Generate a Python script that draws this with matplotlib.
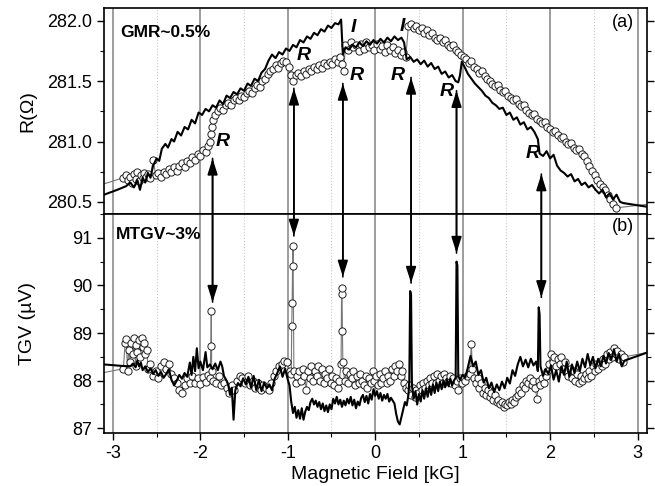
import matplotlib
matplotlib.use("Agg")
import matplotlib.pyplot as plt
from matplotlib.patches import ConnectionPatch
from matplotlib.ticker import MultipleLocator
import numpy as np

plt.rcParams['font.family'] = ['Liberation Sans', 'DejaVu Sans']
plt.rcParams['axes.unicode_minus'] = False

# ---- (a) resistance, solid line sweep ----
r_line = [
    (-3.10, 280.56), (-2.95, 280.60), (-2.85, 280.63), (-2.80, 280.66), (-2.76, 280.62),
    (-2.72, 280.68), (-2.69, 280.60), (-2.66, 280.70), (-2.63, 280.66), (-2.60, 280.74),
    (-2.57, 280.70), (-2.54, 280.80), (-2.50, 280.86), (-2.47, 280.84), (-2.44, 280.94),
    (-2.40, 280.98), (-2.37, 280.95), (-2.33, 281.02), (-2.30, 281.00), (-2.26, 281.08),
    (-2.22, 281.05), (-2.18, 281.12), (-2.14, 281.10), (-2.10, 281.18), (-2.06, 281.15),
    (-2.02, 281.24), (-1.98, 281.22), (-1.94, 281.27), (-1.90, 281.25), (-1.86, 281.30),
    (-1.82, 281.28), (-1.78, 281.34), (-1.74, 281.31), (-1.70, 281.38), (-1.66, 281.36),
    (-1.62, 281.41), (-1.58, 281.39), (-1.54, 281.44), (-1.50, 281.42), (-1.46, 281.48),
    (-1.42, 281.46), (-1.38, 281.52), (-1.34, 281.50), (-1.30, 281.57), (-1.26, 281.60),
    (-1.22, 281.67), (-1.18, 281.72), (-1.14, 281.69), (-1.10, 281.74), (-1.06, 281.72),
    (-1.02, 281.77), (-0.98, 281.75), (-0.94, 281.80), (-0.90, 281.78), (-0.86, 281.84),
    (-0.82, 281.82), (-0.78, 281.87), (-0.74, 281.85), (-0.70, 281.90), (-0.66, 281.88),
    (-0.62, 281.93), (-0.58, 281.91), (-0.54, 281.96), (-0.50, 281.94), (-0.46, 281.98),
    (-0.42, 281.97), (-0.39, 282.01), (-0.37, 281.72), (-0.34, 281.78), (-0.30, 281.76),
    (-0.26, 281.80), (-0.22, 281.78), (-0.18, 281.82), (-0.14, 281.79), (-0.10, 281.83),
    (-0.06, 281.80), (-0.02, 281.84), (0.02, 281.81), (0.06, 281.85), (0.10, 281.82),
    (0.14, 281.86), (0.18, 281.83), (0.22, 281.87), (0.26, 281.84), (0.30, 281.86),
    (0.33, 281.82), (0.36, 281.68), (0.40, 281.70), (0.44, 281.66), (0.48, 281.68),
    (0.52, 281.64), (0.56, 281.67), (0.60, 281.62), (0.64, 281.65), (0.68, 281.60),
    (0.72, 281.62), (0.76, 281.56), (0.80, 281.58), (0.84, 281.53), (0.88, 281.55),
    (0.92, 281.50), (0.95, 281.49), (0.97, 281.55), (0.99, 281.66), (1.02, 281.62),
    (1.06, 281.56), (1.10, 281.52), (1.14, 281.48), (1.18, 281.45), (1.22, 281.42),
    (1.26, 281.38), (1.30, 281.36), (1.34, 281.32), (1.38, 281.30), (1.42, 281.27),
    (1.46, 281.28), (1.50, 281.22), (1.54, 281.24), (1.58, 281.18), (1.62, 281.20),
    (1.66, 281.14), (1.70, 281.16), (1.74, 281.10), (1.78, 281.12), (1.82, 281.08),
    (1.86, 281.02), (1.88, 280.90), (1.92, 280.88), (1.96, 280.92), (2.00, 280.86),
    (2.04, 280.89), (2.08, 280.80), (2.12, 280.76), (2.16, 280.74), (2.20, 280.71),
    (2.24, 280.73), (2.28, 280.67), (2.32, 280.69), (2.36, 280.64), (2.40, 280.66),
    (2.44, 280.62), (2.48, 280.64), (2.52, 280.60), (2.56, 280.57), (2.60, 280.60),
    (2.64, 280.54), (2.68, 280.57), (2.72, 280.52), (2.76, 280.56), (2.80, 280.50),
    (2.84, 280.49), (3.11, 280.46),
]

# ---- (a) resistance, open circles sweep ----
r_circ = [
    (-2.88, 280.70), (-2.85, 280.72), (-2.83, 280.68), (-2.80, 280.71), (-2.78, 280.66),
    (-2.76, 280.73), (-2.74, 280.69), (-2.72, 280.75), (-2.70, 280.67), (-2.68, 280.72),
    (-2.66, 280.70), (-2.64, 280.74), (-2.62, 280.71), (-2.60, 280.73), (-2.57, 280.70),
    (-2.54, 280.85), (-2.51, 280.72), (-2.48, 280.74), (-2.45, 280.71), (-2.42, 280.75),
    (-2.39, 280.73), (-2.36, 280.77), (-2.33, 280.75), (-2.30, 280.79), (-2.27, 280.76),
    (-2.24, 280.80), (-2.21, 280.82), (-2.18, 280.79), (-2.15, 280.84), (-2.12, 280.82),
    (-2.09, 280.87), (-2.06, 280.85), (-2.03, 280.90), (-2.00, 280.88), (-1.97, 280.93),
    (-1.94, 280.91), (-1.91, 280.96), (-1.89, 281.00), (-1.88, 281.06), (-1.87, 281.12),
    (-1.85, 281.18), (-1.83, 281.22), (-1.80, 281.25), (-1.77, 281.28), (-1.74, 281.26),
    (-1.71, 281.30), (-1.68, 281.32), (-1.65, 281.30), (-1.62, 281.34), (-1.59, 281.36),
    (-1.56, 281.34), (-1.53, 281.38), (-1.50, 281.37), (-1.47, 281.40), (-1.44, 281.42),
    (-1.41, 281.40), (-1.38, 281.44), (-1.35, 281.47), (-1.32, 281.45), (-1.29, 281.50),
    (-1.26, 281.52), (-1.23, 281.56), (-1.20, 281.58), (-1.17, 281.60), (-1.14, 281.63),
    (-1.11, 281.61), (-1.08, 281.65), (-1.05, 281.67), (-1.02, 281.66), (-0.99, 281.62),
    (-0.96, 281.55), (-0.94, 281.50), (-0.91, 281.55), (-0.88, 281.57), (-0.85, 281.54),
    (-0.82, 281.58), (-0.79, 281.56), (-0.76, 281.60), (-0.73, 281.58), (-0.70, 281.62),
    (-0.67, 281.60), (-0.64, 281.63), (-0.61, 281.61), (-0.58, 281.65), (-0.55, 281.63),
    (-0.52, 281.66), (-0.49, 281.64), (-0.46, 281.68), (-0.43, 281.66), (-0.40, 281.70),
    (-0.38, 281.64), (-0.36, 281.58), (-0.34, 281.80), (-0.31, 281.76), (-0.28, 281.82),
    (-0.25, 281.78), (-0.22, 281.80), (-0.19, 281.75), (-0.16, 281.81), (-0.13, 281.77),
    (-0.10, 281.82), (-0.07, 281.78), (-0.04, 281.80), (-0.01, 281.76), (0.02, 281.81),
    (0.05, 281.77), (0.08, 281.79), (0.11, 281.74), (0.14, 281.80), (0.17, 281.76),
    (0.20, 281.78), (0.23, 281.73), (0.26, 281.76), (0.29, 281.72), (0.32, 281.74),
    (0.35, 281.70), (0.38, 281.96), (0.41, 281.97), (0.44, 281.94), (0.47, 281.96),
    (0.50, 281.92), (0.53, 281.94), (0.56, 281.90), (0.59, 281.92), (0.62, 281.88),
    (0.65, 281.90), (0.68, 281.86), (0.71, 281.84), (0.74, 281.86), (0.77, 281.82),
    (0.80, 281.84), (0.83, 281.80), (0.86, 281.78), (0.89, 281.80), (0.92, 281.76),
    (0.95, 281.74), (0.98, 281.72), (1.01, 281.70), (1.04, 281.68), (1.07, 281.65),
    (1.10, 281.67), (1.13, 281.62), (1.16, 281.60), (1.19, 281.57), (1.22, 281.58),
    (1.25, 281.54), (1.28, 281.52), (1.31, 281.50), (1.34, 281.48), (1.37, 281.46),
    (1.40, 281.47), (1.43, 281.43), (1.46, 281.41), (1.49, 281.42), (1.52, 281.38),
    (1.55, 281.36), (1.58, 281.34), (1.61, 281.35), (1.64, 281.31), (1.67, 281.29),
    (1.70, 281.30), (1.73, 281.26), (1.76, 281.24), (1.79, 281.22), (1.82, 281.23),
    (1.85, 281.19), (1.88, 281.17), (1.91, 281.15), (1.94, 281.16), (1.97, 281.12),
    (2.00, 281.10), (2.03, 281.08), (2.06, 281.09), (2.09, 281.05), (2.12, 281.03),
    (2.15, 281.04), (2.18, 281.00), (2.21, 280.98), (2.24, 280.99), (2.27, 280.95),
    (2.30, 280.93), (2.33, 280.94), (2.36, 280.90), (2.39, 280.88), (2.42, 280.84),
    (2.45, 280.80), (2.48, 280.76), (2.51, 280.72), (2.54, 280.68), (2.57, 280.65),
    (2.60, 280.62), (2.63, 280.60), (2.66, 280.56), (2.69, 280.52), (2.72, 280.48),
    (2.75, 280.45),
]
r_circ_ends = [(-3.10, 280.65), (3.11, 280.48)]

# ---- (b) thermal gradient voltage, solid line sweep ----
v_line = [
    (-3.10, 88.34), (-2.90, 88.31), (-2.80, 88.30), (-2.77, 88.36), (-2.74, 88.28),
    (-2.72, 88.42), (-2.70, 88.30), (-2.68, 88.38), (-2.66, 88.22), (-2.63, 88.30),
    (-2.60, 88.18), (-2.57, 88.26), (-2.54, 88.14), (-2.51, 88.22), (-2.48, 88.10),
    (-2.45, 88.18), (-2.42, 88.06), (-2.39, 88.14), (-2.36, 88.24), (-2.33, 88.02),
    (-2.30, 87.90), (-2.27, 88.00), (-2.24, 88.12), (-2.21, 88.04), (-2.18, 88.16),
    (-2.15, 88.08), (-2.12, 88.38), (-2.10, 88.12), (-2.08, 88.50), (-2.06, 88.20),
    (-2.04, 88.68), (-2.02, 88.26), (-2.00, 88.40), (-1.97, 88.22), (-1.94, 88.60),
    (-1.92, 88.28), (-1.89, 88.34), (-1.86, 88.24), (-1.83, 88.36), (-1.80, 88.22),
    (-1.77, 88.40), (-1.75, 88.30), (-1.73, 88.10), (-1.70, 88.00), (-1.68, 87.90),
    (-1.66, 87.70), (-1.64, 87.85), (-1.62, 87.18), (-1.60, 87.80), (-1.57, 87.95),
    (-1.54, 87.88), (-1.51, 88.05), (-1.48, 87.92), (-1.45, 88.08), (-1.42, 87.85),
    (-1.39, 88.10), (-1.36, 87.80), (-1.33, 88.02), (-1.30, 87.78), (-1.27, 87.96),
    (-1.24, 87.84), (-1.21, 87.92), (-1.18, 87.80), (-1.15, 88.04), (-1.12, 88.16),
    (-1.09, 88.30), (-1.06, 88.08), (-1.03, 88.25), (-1.00, 88.02), (-0.98, 87.90),
    (-0.96, 87.55), (-0.94, 87.32), (-0.92, 87.45), (-0.90, 87.22), (-0.88, 87.38),
    (-0.86, 87.20), (-0.84, 87.42), (-0.82, 87.18), (-0.80, 87.35), (-0.78, 87.45),
    (-0.76, 87.38), (-0.74, 87.55), (-0.72, 87.62), (-0.70, 87.50), (-0.68, 87.58),
    (-0.66, 87.45), (-0.64, 87.55), (-0.62, 87.40), (-0.60, 87.52), (-0.58, 87.36),
    (-0.56, 87.48), (-0.54, 87.34), (-0.52, 87.50), (-0.50, 87.40), (-0.48, 87.62),
    (-0.46, 87.52), (-0.44, 87.66), (-0.42, 87.50), (-0.40, 87.60), (-0.38, 87.45),
    (-0.36, 87.58), (-0.34, 87.48), (-0.32, 87.62), (-0.30, 87.52), (-0.28, 87.66),
    (-0.26, 87.48), (-0.24, 87.60), (-0.22, 87.42), (-0.20, 87.56), (-0.18, 87.48),
    (-0.16, 87.64), (-0.14, 87.70), (-0.12, 87.55), (-0.10, 87.68), (-0.08, 87.52),
    (-0.06, 87.72), (-0.04, 87.60), (-0.02, 87.82), (0.00, 87.68), (0.02, 87.78),
    (0.04, 87.62), (0.06, 87.74), (0.08, 87.58), (0.10, 87.70), (0.12, 87.62),
    (0.14, 87.72), (0.16, 87.56), (0.18, 87.64), (0.20, 87.58), (0.22, 87.52),
    (0.24, 87.30), (0.26, 87.14), (0.28, 87.08), (0.30, 87.24), (0.32, 87.40),
    (0.34, 87.55), (0.36, 87.48), (0.38, 87.70), (0.39, 88.00), (0.40, 89.88),
    (0.41, 89.80), (0.42, 87.90), (0.44, 87.62), (0.46, 87.78), (0.48, 87.50),
    (0.50, 87.72), (0.52, 87.56), (0.54, 87.80), (0.56, 87.62), (0.58, 87.84),
    (0.60, 87.66), (0.62, 87.88), (0.64, 87.70), (0.66, 87.92), (0.68, 87.74),
    (0.70, 87.96), (0.72, 87.78), (0.74, 87.98), (0.76, 87.82), (0.78, 88.00),
    (0.80, 87.86), (0.82, 88.02), (0.84, 87.88), (0.86, 88.04), (0.88, 87.90),
    (0.90, 88.00), (0.92, 88.06), (0.93, 90.50), (0.94, 90.42), (0.95, 88.10),
    (0.97, 88.02), (1.00, 88.12), (1.03, 88.06), (1.06, 88.28), (1.09, 88.52),
    (1.12, 88.30), (1.15, 88.40), (1.18, 88.12), (1.21, 88.22), (1.24, 87.96),
    (1.27, 88.06), (1.30, 87.84), (1.33, 87.96), (1.36, 87.76), (1.39, 87.92),
    (1.42, 87.80), (1.45, 87.98), (1.48, 87.84), (1.51, 88.06), (1.54, 87.94),
    (1.57, 88.22), (1.60, 88.10), (1.63, 88.34), (1.66, 88.50), (1.69, 88.30),
    (1.72, 88.44), (1.75, 88.28), (1.78, 88.46), (1.81, 88.32), (1.84, 88.40),
    (1.86, 88.20), (1.87, 89.54), (1.88, 89.40), (1.89, 88.30), (1.92, 88.10),
    (1.95, 88.24), (1.98, 88.14), (2.01, 88.32), (2.04, 88.02), (2.07, 88.22),
    (2.10, 87.98), (2.13, 88.30), (2.16, 88.12), (2.19, 88.40), (2.22, 88.08),
    (2.25, 88.34), (2.28, 88.16), (2.31, 88.40), (2.34, 88.20), (2.37, 88.46),
    (2.40, 88.28), (2.43, 88.56), (2.46, 88.32), (2.49, 88.50), (2.52, 88.26),
    (2.55, 88.46), (2.58, 88.30), (2.61, 88.52), (2.64, 88.36), (2.67, 88.58),
    (2.70, 88.44), (2.73, 88.66), (2.76, 88.40), (2.79, 88.56), (2.82, 88.30),
    (2.85, 88.42), (3.11, 88.59),
]

# ---- (b) thermal gradient voltage, open circles sweep ----
v_circ = [
    (-2.88, 88.25), (-2.86, 88.80), (-2.85, 88.88), (-2.83, 88.20), (-2.82, 88.65),
    (-2.80, 88.40), (-2.79, 88.80), (-2.77, 88.55), (-2.76, 88.90), (-2.74, 88.30),
    (-2.73, 88.75), (-2.72, 88.60), (-2.70, 88.85), (-2.69, 88.50), (-2.67, 88.90),
    (-2.66, 88.70), (-2.64, 88.80), (-2.63, 88.55), (-2.61, 88.65), (-2.60, 88.25),
    (-2.57, 88.35), (-2.54, 88.10), (-2.51, 88.20), (-2.48, 88.05), (-2.45, 88.30),
    (-2.42, 88.40), (-2.39, 88.25), (-2.36, 88.35), (-2.33, 88.15), (-2.30, 88.05),
    (-2.27, 87.95), (-2.24, 87.80), (-2.21, 87.75), (-2.18, 87.90), (-2.15, 88.05),
    (-2.12, 87.95), (-2.09, 88.10), (-2.06, 87.95), (-2.03, 88.05), (-2.00, 87.92),
    (-1.97, 88.08), (-1.94, 87.98), (-1.91, 88.12), (-1.89, 88.05), (-1.88, 88.72),
    (-1.875, 89.46), (-1.87, 88.20), (-1.85, 88.00), (-1.82, 87.95), (-1.79, 88.10),
    (-1.76, 87.90), (-1.73, 87.95), (-1.70, 87.85), (-1.67, 87.75), (-1.64, 87.90),
    (-1.61, 87.80), (-1.58, 88.00), (-1.55, 88.10), (-1.52, 88.05), (-1.49, 87.95),
    (-1.46, 88.10), (-1.43, 87.90), (-1.40, 88.00), (-1.37, 87.85), (-1.34, 87.95),
    (-1.31, 87.80), (-1.28, 87.90), (-1.25, 87.85), (-1.22, 87.80), (-1.19, 87.95),
    (-1.16, 88.10), (-1.13, 88.20), (-1.10, 88.30), (-1.07, 88.35), (-1.04, 88.42),
    (-1.01, 88.40), (-0.98, 88.20), (-0.96, 88.15), (-0.955, 89.14), (-0.95, 89.63),
    (-0.945, 90.41), (-0.94, 90.83), (-0.93, 88.20), (-0.91, 87.95), (-0.89, 88.10),
    (-0.87, 88.20), (-0.85, 88.00), (-0.83, 88.25), (-0.81, 88.10), (-0.79, 87.80),
    (-0.77, 88.20), (-0.75, 88.05), (-0.73, 88.30), (-0.71, 88.00), (-0.69, 88.20),
    (-0.67, 88.10), (-0.65, 88.30), (-0.63, 88.00), (-0.61, 88.25), (-0.59, 87.95),
    (-0.57, 88.15), (-0.55, 88.05), (-0.53, 88.25), (-0.51, 87.95), (-0.49, 88.10),
    (-0.47, 87.90), (-0.45, 88.05), (-0.43, 87.85), (-0.41, 88.00), (-0.39, 88.36),
    (-0.385, 89.83), (-0.38, 89.94), (-0.375, 89.05), (-0.37, 88.40), (-0.35, 88.00),
    (-0.33, 88.20), (-0.31, 87.95), (-0.29, 88.15), (-0.27, 88.05), (-0.25, 88.20),
    (-0.23, 87.90), (-0.21, 88.10), (-0.19, 87.95), (-0.17, 88.15), (-0.15, 88.00),
    (-0.13, 87.90), (-0.11, 88.10), (-0.09, 87.85), (-0.07, 88.05), (-0.05, 87.95),
    (-0.03, 88.20), (-0.01, 88.00), (0.01, 88.10), (0.03, 87.90), (0.05, 88.15),
    (0.07, 87.95), (0.09, 88.05), (0.11, 88.20), (0.13, 87.95), (0.15, 88.10),
    (0.17, 88.00), (0.19, 88.25), (0.21, 88.10), (0.23, 88.30), (0.25, 88.20),
    (0.27, 88.35), (0.29, 88.10), (0.31, 88.20), (0.33, 87.95), (0.35, 87.85),
    (0.37, 87.80), (0.39, 87.90), (0.41, 87.70), (0.43, 87.85), (0.45, 87.65),
    (0.47, 87.80), (0.49, 87.75), (0.51, 87.90), (0.53, 87.80), (0.55, 87.95),
    (0.57, 87.85), (0.59, 88.00), (0.61, 87.90), (0.63, 88.05), (0.65, 87.95),
    (0.67, 88.10), (0.69, 87.95), (0.71, 88.15), (0.73, 88.00), (0.75, 88.10),
    (0.77, 87.95), (0.79, 88.15), (0.81, 88.05), (0.83, 88.00), (0.85, 88.10),
    (0.87, 87.95), (0.89, 88.05), (0.91, 87.90), (0.93, 88.00), (0.95, 87.80),
    (0.97, 88.05), (0.99, 87.95), (1.01, 88.05), (1.03, 88.00), (1.05, 88.10),
    (1.08, 88.15), (1.10, 88.78), (1.11, 88.25), (1.13, 88.05), (1.15, 87.95),
    (1.17, 88.05), (1.19, 87.85), (1.21, 87.95), (1.23, 87.75), (1.25, 87.85),
    (1.27, 87.70), (1.29, 87.80), (1.31, 87.65), (1.33, 87.75), (1.35, 87.60),
    (1.37, 87.70), (1.39, 87.55), (1.41, 87.60), (1.43, 87.50), (1.45, 87.55),
    (1.47, 87.45), (1.49, 87.52), (1.51, 87.48), (1.53, 87.55), (1.55, 87.50),
    (1.57, 87.60), (1.59, 87.55), (1.61, 87.65), (1.63, 87.70), (1.65, 87.80),
    (1.67, 87.75), (1.69, 87.90), (1.71, 87.85), (1.73, 88.00), (1.75, 87.95),
    (1.77, 88.05), (1.79, 87.90), (1.81, 88.00), (1.83, 87.85), (1.85, 87.62),
    (1.87, 88.00), (1.89, 87.90), (1.91, 88.05), (1.93, 87.95), (1.95, 88.10),
    (1.97, 88.20), (1.99, 88.35), (2.01, 88.55), (2.03, 88.40), (2.05, 88.50),
    (2.07, 88.30), (2.09, 88.45), (2.11, 88.35), (2.13, 88.50), (2.15, 88.25),
    (2.17, 88.40), (2.19, 88.20), (2.21, 88.10), (2.23, 88.25), (2.25, 88.05),
    (2.27, 88.20), (2.29, 88.00), (2.31, 88.15), (2.33, 87.95), (2.35, 88.10),
    (2.37, 88.00), (2.39, 88.05), (2.41, 88.15), (2.43, 88.05), (2.45, 88.20),
    (2.47, 88.10), (2.49, 88.30), (2.51, 88.20), (2.53, 88.35), (2.55, 88.25),
    (2.57, 88.40), (2.59, 88.30), (2.61, 88.45), (2.63, 88.35), (2.65, 88.55),
    (2.67, 88.45), (2.69, 88.60), (2.71, 88.50), (2.73, 88.68), (2.75, 88.55),
    (2.77, 88.62), (2.79, 88.45), (2.81, 88.55), (2.83, 88.40), (2.85, 88.50),
]
v_circ_ends = [(-3.10, 88.17), (3.11, 88.59)]

# arrows linking the R jumps in (a) to the TGV peaks in (b)
arrow_x = [-1.86, -0.93, -0.37, 0.41, 0.93, 1.90]
arrow_top = [280.86, 281.44, 281.48, 281.53, 281.42, 280.73]
arrow_bot = [89.65, 91.04, 90.18, 90.05, 90.68, 89.75]

r_labels = [(-1.74, 281.00), (-0.82, 281.71), (-0.21, 281.55),
            (0.26, 281.55), (0.82, 281.41), (1.80, 280.90)]
i_labels = [(-0.25, 281.94), (0.31, 281.95)]


def xy(pairs):
    a = np.array(pairs)
    return a[:, 0], a[:, 1]


def circle_series(ax, pts, ends):
    x, y = xy(pts)
    ex, ey = xy(ends)
    lx = np.concatenate([[ex[0]], x, [ex[1]]])
    ly = np.concatenate([[ey[0]], y, [ey[1]]])
    ax.plot(lx, ly, color='#777777', lw=0.8, zorder=2)
    ax.plot(x, y, 'o', ms=5.2, mfc='white', mec='#222222', mew=0.7, zorder=3)


def style_axis(ax):
    for v in range(-3, 4):
        ax.axvline(v, color='#8c8c8c', lw=1.2, zorder=1)
    for v in [-2.5, -1.5, -0.5, 0.5, 1.5, 2.5]:
        ax.axvline(v, color='#c8c8c8', lw=0.8, ls=':', zorder=1)
    ax.set_xlim(-3.1, 3.11)
    ax.xaxis.set_major_locator(MultipleLocator(1))
    ax.xaxis.set_minor_locator(MultipleLocator(0.5))
    ax.tick_params(axis='y', which='both', left=True, right=True, labelright=False)
    ax.tick_params(axis='y', which='major', length=5, width=1, labelsize=13)
    ax.tick_params(axis='y', which='minor', length=3, width=0.8)
    ax.tick_params(axis='x', which='major', length=5, width=1, labelsize=13)
    ax.tick_params(axis='x', which='minor', length=3, width=0.8)
    for s in ax.spines.values():
        s.set_linewidth(1.2)


fig = plt.figure(figsize=(6.55, 4.86), dpi=100)
ax1 = fig.add_axes([0.159, 0.5597, 0.829, 0.424])
ax2 = fig.add_axes([0.159, 0.109, 0.829, 0.4507], sharex=ax1)

# panel (a)
style_axis(ax1)
circle_series(ax1, r_circ, r_circ_ends)
x, y = xy(r_line)
ax1.plot(x, y, color='black', lw=1.5, zorder=4)
ax1.set_ylim(280.4, 282.106)
ax1.yaxis.set_major_locator(MultipleLocator(0.5))
ax1.yaxis.set_minor_locator(MultipleLocator(0.25))
ax1.yaxis.set_major_formatter(matplotlib.ticker.FormatStrFormatter('%.1f'))
ax1.tick_params(axis='x', which='both', bottom=False, labelbottom=False)
ax1.set_ylabel('R(Ω)', fontsize=14)
ax1.text(-2.92, 281.9, 'GMR~0.5%', fontsize=12.5, fontweight='bold', va='center')
ax1.text(0.975, 0.93, '(a)', transform=ax1.transAxes, fontsize=13, ha='right', va='center')
for lx, ly in r_labels:
    ax1.text(lx, ly, 'R', fontsize=14, fontweight='bold', style='italic',
             ha='center', va='center', zorder=6)
for lx, ly in i_labels:
    ax1.text(lx, ly, 'I', fontsize=14, fontweight='bold', style='italic',
             ha='center', va='center', zorder=6)

# panel (b)
style_axis(ax2)
circle_series(ax2, v_circ, v_circ_ends)
x, y = xy(v_line)
ax2.plot(x, y, color='black', lw=1.5, zorder=4)
ax2.set_ylim(86.9, 91.5)
ax2.yaxis.set_major_locator(MultipleLocator(1))
ax2.yaxis.set_minor_locator(MultipleLocator(0.5))
ax2.set_ylabel('TGV (µV)', fontsize=14)
ax2.set_xlabel('Magnetic Field [kG]', fontsize=14, labelpad=3)
ax2.text(-2.97, 91.06, 'MTGV~3%', fontsize=12.5, fontweight='bold', va='center')
ax2.text(0.975, 0.945, '(b)', transform=ax2.transAxes, fontsize=13, ha='right', va='center')

ax1.yaxis.set_label_coords(-0.125, 0.5)
ax2.yaxis.set_label_coords(-0.125, 0.5)

for ax_x, yt, yb in zip(arrow_x, arrow_top, arrow_bot):
    for (pa, ca), (pb, cb) in [(((ax_x, yt), ax1), ((ax_x, yb), ax2)),
                               (((ax_x, yb), ax2), ((ax_x, yt), ax1))]:
        con = ConnectionPatch(xyA=pa, coordsA=ca.transData,
                              xyB=pb, coordsB=cb.transData,
                              arrowstyle='-|>,head_length=0.7,head_width=0.22', lw=1.2,
                              color='black', mutation_scale=14, zorder=7)
        fig.add_artist(con)

fig.savefig('out.png', dpi=100)
